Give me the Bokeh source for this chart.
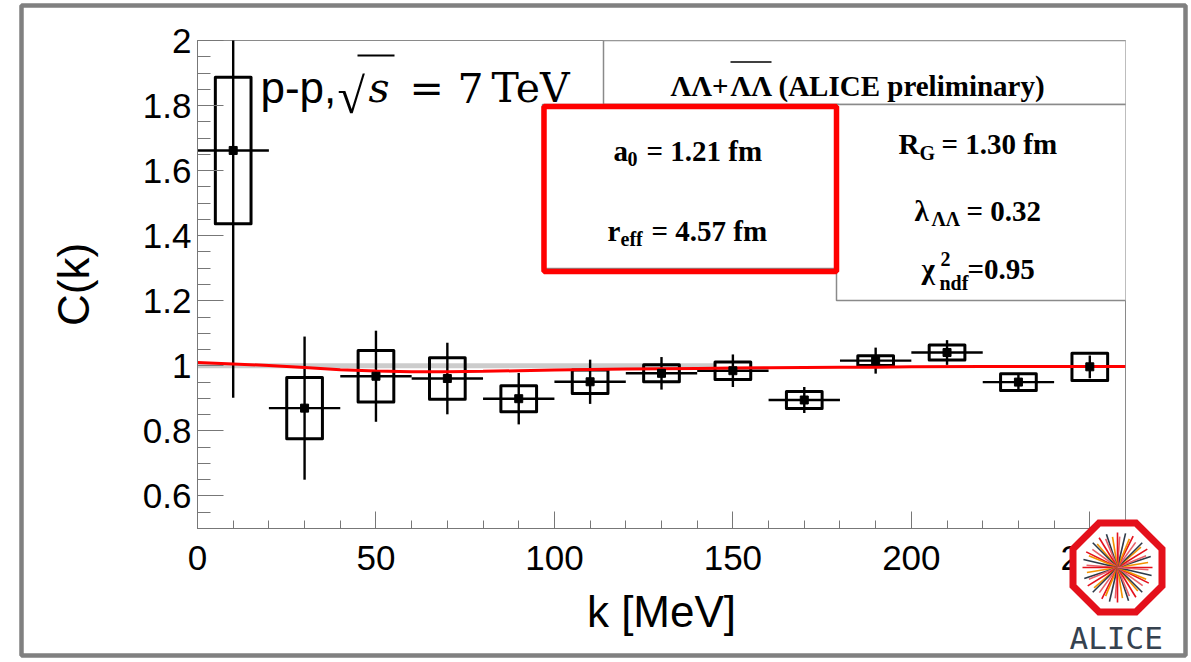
import numpy as np
from bokeh.plotting import figure
from bokeh.models import (Range1d, FixedTicker, Label, BoxAnnotation, Arrow,
                          ColumnDataSource)
from bokeh.core.properties import value
from bokeh.embed import file_html
from bokeh.resources import INLINE

# ---------------- measured correlation function ----------------
k_mev = [10, 30, 50, 70, 90, 110, 130, 150, 170, 190, 210, 230, 250]
c_k = [1.662, 0.870, 0.968, 0.961, 0.899, 0.951, 0.977, 0.985, 0.895,
       1.016, 1.041, 0.950, 0.997]
stat_err = [0.76, 0.22, 0.14, 0.11, 0.079, 0.068, 0.05, 0.05, 0.04,
            0.04, 0.038, 0.025, 0.035]
syst_err = [0.225, 0.094, 0.079, 0.064, 0.040, 0.036, 0.026, 0.027, 0.026,
            0.015, 0.023, 0.026, 0.042]
k_err = [10, 10, 10, 10, 10, 10, 10, 10, 10, 10, 10, 10, 5]
syst_half_width = 5

# ---------------- fit curve ----------------
fit_k = [0, 10, 20, 30, 40, 50, 60, 70, 80, 90, 100, 110, 120, 130, 140,
         150, 160, 170, 180, 190, 200, 220, 240, 260]
fit_c = [1.010, 1.006, 1.001, 0.995, 0.988, 0.984, 0.982, 0.982, 0.983,
         0.985, 0.987, 0.989, 0.990, 0.991, 0.992, 0.993, 0.994, 0.995,
         0.996, 0.996, 0.997, 0.998, 0.998, 0.998]

# baseline C(k) = 1
base_k = [0, 145]
base_c = [1.0, 1.0]

# ---------------- axes ----------------
x_ticks = [0, 50, 100, 150, 200, 250]
x_tick_labels = ["0", "50", "100", "150", "200", "250"]
y_ticks = [0.6, 0.8, 1.0, 1.2, 1.4, 1.6, 1.8, 2.0]
y_tick_labels = ["0.6", "0.8", "1", "1.2", "1.4", "1.6", "1.8", "2"]
X_LO, X_HI = 0, 260
Y_LO, Y_HI = 0.5, 2.0

W, H = 1191, 662
FL, FR, FT, FB = 197, 1125, 40, 528  # frame edges in canvas pixels

p = figure(width=W, height=H, x_range=Range1d(X_LO, X_HI),
           y_range=Range1d(Y_LO, Y_HI), toolbar_location=None,
           output_backend="svg", min_border_left=FL,
           min_border_right=W - FR, min_border_top=FT,
           min_border_bottom=H - FB)
p.background_fill_color = "white"
p.border_fill_color = "white"
p.outline_line_color = "#8a8a8a"
p.outline_line_width = 1
p.grid.visible = False


def dx(px):
    return X_LO + (px - FL) * (X_HI - X_LO) / (FR - FL)


def dy(py):
    return Y_HI - (py - FT) * (Y_HI - Y_LO) / (FB - FT)


ax = p.xaxis[0]
ax.ticker = FixedTicker(ticks=x_ticks, minor_ticks=list(range(0, 261, 10)))
ax.major_label_overrides = dict(zip(x_ticks, x_tick_labels))
ax.axis_label = "k [MeV]"
ay = p.yaxis[0]
ay.ticker = FixedTicker(ticks=y_ticks,
                       minor_ticks=[round(0.5 + 0.05 * i, 2) for i in range(31)])
ay.major_label_overrides = dict(zip(y_ticks, y_tick_labels))
ay.axis_label = "C(k)"

for a in (ax, ay):
    a.axis_line_color = "#777777"
    a.major_tick_line_color = "#777777"
    a.minor_tick_line_color = "#777777"
    a.major_tick_out = 0
    a.minor_tick_out = 0
    a.major_label_text_font = "Liberation Sans"
    a.major_label_text_font_size = "35px"
    a.major_label_text_color = "black"
    a.axis_label_text_font = "Liberation Sans"
    a.axis_label_text_font_size = "44px"
    a.axis_label_text_font_style = "normal"
    a.axis_label_text_color = "black"
ax.major_tick_in = 17
ax.minor_tick_in = 8
ax.major_label_standoff = 17
ax.axis_label_standoff = 14
ay.major_tick_in = 26
ay.minor_tick_in = 13
ay.major_label_standoff = 6
ay.axis_label_standoff = 42

# ---------------- data marks ----------------
kk = np.array(k_mev, float)
cc = np.array(c_k, float)
se = np.array(stat_err, float)
sy = np.array(syst_err, float)
ke = np.array(k_err, float)

src = ColumnDataSource(dict(
    k=kk, c=cc, lo=cc - se, hi=cc + se, kl=kk - ke, kr=kk + ke,
    bl=kk - syst_half_width, br=kk + syst_half_width,
    bb=cc - sy, bt=cc + sy))

p.line(base_k, base_c, line_color="#cccccc", line_width=5)
p.quad(left="bl", right="br", bottom="bb", top="bt", source=src,
       fill_color=None, line_color="black", line_width=3,
       line_join="round")
p.segment(x0="k", y0="lo", x1="k", y1="hi", source=src,
          line_color="black", line_width=2.4)
p.segment(x0="kl", y0="c", x1="kr", y1="c", source=src,
          line_color="black", line_width=2.4)
p.line(fit_k, fit_c, line_color="#ff0000", line_width=3)
p.scatter(x="k", y="c", source=src, marker="square", size=8,
          fill_color="black", line_color="black")


def put(text, px, py, size, font="Liberation Serif", style="bold",
        align="left", color="black"):
    p.add_layout(Label(x=dx(px), y=dy(py), text=text, text_font=font,
                       text_font_size=f"{size}px", text_font_style=style,
                       text_align=align, text_baseline="alphabetic",
                       text_color=color))


def rule(x0, y0, x1, y1, width=1.5):
    src_r = ColumnDataSource(dict(x0=[dx(x0)], y0=[dy(y0)],
                                  x1=[dx(x1)], y1=[dy(y1)]))
    p.add_layout(Arrow(end=None, x_start="x0", y_start="y0", x_end="x1",
                       y_end="y1", source=src_r, line_color="black",
                       line_width=width))


def box(l, r, t, b, color="#8a8a8a", width=1.5, fill="white"):
    p.add_layout(BoxAnnotation(left=dx(l), right=dx(r), top=dy(t),
                               bottom=dy(b), fill_color=fill,
                               fill_alpha=1 if fill else 0,
                               line_color=color, line_width=width,
                               line_alpha=1))


# ---------------- collision system text ----------------
put("p-p,", 260, 87, 44, font="Liberation Sans", style="normal")
put("\u221a", 337, 95, 50, font="Liberation Serif", style="normal")
rule(357, 55, 394, 55, width=2)
put("s", 368, 87, 41, font="DejaVu Serif", style="italic")
put("=", 409, 87, 41, font="DejaVu Serif", style="normal")
put("7", 457, 87, 41, font="DejaVu Serif", style="normal")
put("TeV", 491, 87, 41, font="DejaVu Serif", style="normal")

# ---------------- legend panels ----------------
box(603, 1126, 40, 104)
box(542, 838, 104, 268)
box(836, 1126, 104, 300)
box(543.5, 836, 106, 271, color="#ff0000", width=5.5, fill=None)

FS = 29
SUB = 20
put("\u039b\u039b+", 670, 85, FS)
put("\u039b\u039b", 730, 85, FS)
rule(730, 61.5, 771, 61.5, width=1.5)
put("(ALICE preliminary)", 778, 85, FS)

put("a", 613, 150, FS)
put("0", 627, 158, SUB)
put("= 1.21 fm", 646, 150, FS)

put("r", 607, 230, FS)
put("eff", 620, 238, SUB)
put("= 4.57 fm", 651, 230, FS)

put("R", 898, 143, FS)
put("G", 919, 152, SUB)
put("= 1.30 fm", 941, 143, FS)

put("\u03bb", 914, 210, FS)
put("\u039b\u039b", 931, 218, SUB)
put("= 0.32", 966, 210, FS)

put("\u03c7", 921, 268, FS)
put("2", 940, 258, SUB)
put("ndf", 939, 282, SUB)
put("=0.95", 967, 268, FS)

# ---------------- page overlay: outer frame and experiment logo ----------------
ov = figure(width=W, height=H, x_range=Range1d(0, W), y_range=Range1d(H, 0),
            toolbar_location=None, output_backend="svg",
            x_axis_location=None, y_axis_location=None, min_border=0)
ov.grid.visible = False
ov.background_fill_color = None
ov.border_fill_color = None
ov.outline_line_color = None
ov.styles = {"position": "absolute", "left": "0px", "top": "0px",
             "pointer-events": "none"}

ov.quad(left=[21], right=[1185], top=[5], bottom=[655], fill_color=None,
        line_color="#808080", line_width=4.5)

LCX, LCY = 1117, 567
oct_r = 44.5 / np.cos(np.pi / 8)
ang = np.pi / 8 + np.arange(8) * np.pi / 4
ov.patch(list(LCX + oct_r * np.cos(ang)), list(LCY - oct_r * np.sin(ang)),
         fill_color="white", line_color="#e4101b", line_width=7,
         line_join="miter")

ray_colors = ["#e4101b", "#f39200", "#2e3a48", "#e8606a"]
n_rays = 48
th = np.array([2 * np.pi * i / n_rays + 0.03 * (i % 3) for i in range(n_rays)])
rlen = np.array([35 - 4 * (i % 2) for i in range(n_rays)])
ov.segment(x0=[LCX] * n_rays, y0=[LCY] * n_rays,
           x1=list(LCX + rlen * np.cos(th)), y1=list(LCY - rlen * np.sin(th)),
           line_color=[ray_colors[i % 4] for i in range(n_rays)],
           line_width=1.6)
ov.text(x=[1069], y=[619], text=["ALICE"], text_font=value("DejaVu Sans Mono"),
        text_font_size="31px", text_color="#36424f",
        text_baseline="top", text_align="left")

open("out.html", "w").write(file_html([p, ov], INLINE))
